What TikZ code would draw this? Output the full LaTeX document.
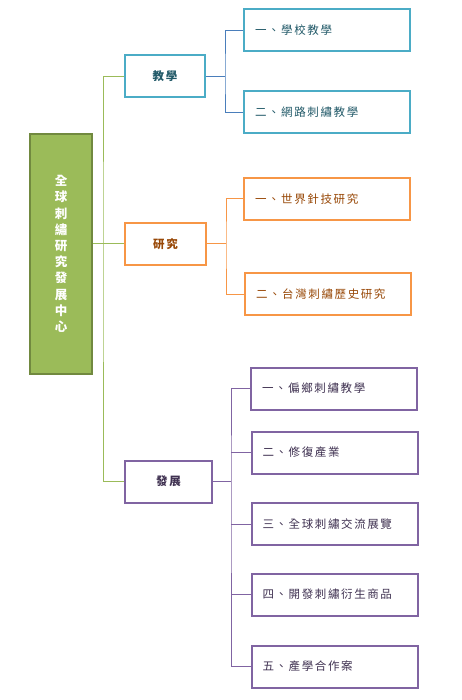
\documentclass[tikz,border=0pt]{standalone}
\usepackage{fontspec}
\newfontfamily\cjk{Noto Sans CJK TC}
\newfontfamily\cjkwide[LetterSpace=14]{Noto Sans CJK TC}
\definecolor{rootgreen}{HTML}{9BBB59}
\definecolor{rootgreenD}{HTML}{71893F}
\definecolor{teachC}{HTML}{4BACC6}
\definecolor{teachL}{HTML}{4A7EBB}
\definecolor{teachT}{HTML}{215968}
\definecolor{resC}{HTML}{F79646}
\definecolor{resT}{HTML}{984807}
\definecolor{devC}{HTML}{8064A2}
\definecolor{devT}{HTML}{3F3151}

\begin{document}
\begin{tikzpicture}[
    x=1pt, y=-1pt,
    font=\cjkwide\fontsize{11.5}{13}\selectfont,
    root/.style={draw=rootgreenD, fill=rootgreen, line width=2pt,
                 minimum width=62pt, minimum height=240pt, text=white,
                 align=center, font=\cjk\bfseries\fontsize{12.5}{16.2}\selectfont},
    branch/.style={draw, fill=white, line width=2pt, minimum width=80pt,
                   minimum height=42pt, font=\cjkwide\bfseries\fontsize{11.5}{13}\selectfont},
    leaf/.style={draw, fill=white, line width=2pt, text width=144pt,
                 inner xsep=11pt, minimum height=42pt, align=left},
    link/.style={line width=1pt}
]
\useasboundingbox (0,0) rectangle (461,700);

% centre
\node[root] (root) at (61,254) {全\\球\\刺\\繡\\研\\究\\發\\展\\中\\心};

% second level
\node[branch, draw=teachC, text=teachT] (teach) at (165,76.5) {教學};
\node[branch, draw=resC, text=resT, minimum width=81pt] (res) at (165.5,244) {研究};
\node[branch, draw=devC, text=devT, minimum width=87pt] (dev) at (168.5,481.5) {發展};

% leaves
\node[leaf, draw=teachC, text=teachT] (t1) at (327,30.5) {一、學校教學};
\node[leaf, draw=teachC, text=teachT] (t2) at (327,112.5) {二、網路刺繡教學};
\node[leaf, draw=resC, text=resT] (r1) at (327,199) {一、世界針技研究};
\node[leaf, draw=resC, text=resT] (r2) at (328,294) {二、台灣刺繡歷史研究};
\node[leaf, draw=devC, text=devT] (d1) at (334,388.5) {一、偏鄉刺繡教學};
\node[leaf, draw=devC, text=devT] (d2) at (334.5,452.5) {二、修復產業};
\node[leaf, draw=devC, text=devT] (d3) at (334.5,524) {三、全球刺繡交流展覽};
\node[leaf, draw=devC, text=devT] (d4) at (334.5,594.5) {四、開發刺繡衍生商品};
\node[leaf, draw=devC, text=devT] (d5) at (334.5,666.5) {五、產學合作案};

% bus points
\coordinate (mbus) at (103,245);
\coordinate (tbus) at (225,76.5);
\coordinate (rbus) at (226,244);
\coordinate (dbus) at (231,481.5);

% connectors
\draw[link, rootgreen] (root.east |- res.west) -- (res.west);
\draw[link, rootgreen] (teach.west) -| (mbus) |- (dev.west);
\draw[link, teachL] (teach.east) -- (tbus);
\draw[link, teachL] (t1.west) -| (tbus) |- (t2.west);
\draw[link, resC] (res.east) -- (rbus);
\draw[link, resC] (r1.west) -| (rbus) |- (r2.west);
\draw[link, devC] (dev.east) -- (dbus);
\draw[link, devC] (d1.west) -| (dbus) |- (d5.west);
\foreach \n in {d2,d3,d4}
    \draw[link, devC] (dbus |- \n.west) -- (\n.west);

\end{tikzpicture}
\end{document}
